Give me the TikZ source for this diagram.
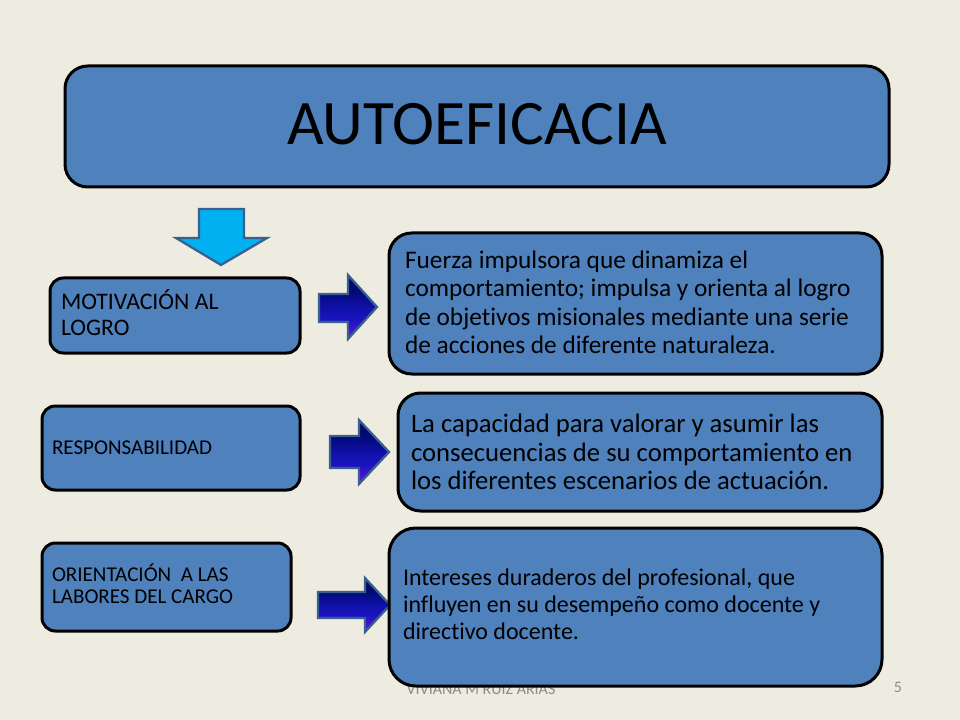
\documentclass[tikz,border=0pt]{standalone}
\usepackage{fontspec}
\setmainfont{Carlito}[Ligatures=CommonOff]
\newcommand{\liftby}[1]{\par\vspace*{#1}}
\definecolor{bgcream}{HTML}{EEECE1}
\definecolor{boxblue}{HTML}{4F81BD}
\definecolor{arrowedge}{HTML}{3A6090}
\definecolor{arrowtop}{HTML}{000A50}
\definecolor{arrowupper}{HTML}{000A78}
\definecolor{arrowmid}{HTML}{1010A8}
\definecolor{arrowlow}{HTML}{1C14C0}
\definecolor{arrowbottom}{HTML}{6010E0}
\definecolor{skyarrow}{HTML}{00B0F0}
\definecolor{footgray}{HTML}{8B8B88}
\pgfdeclareverticalshading{navyfade}{100bp}{color(0bp)=(arrowbottom); color(27bp)=(arrowbottom); color(40bp)=(arrowlow); color(50bp)=(arrowmid); color(62bp)=(arrowupper); color(73bp)=(arrowtop); color(100bp)=(arrowtop)}
\tikzset{
  px/.style={x=0.75pt,y=-0.75pt},
  bluebox/.style={draw=black,fill=boxblue,line width=2.25pt,rounded corners=#1,outer sep=0pt,inner ysep=0pt,anchor=north west,align=flush left,text=black},
  bluebox/.default=13pt,
  navyarrow/.style={draw=arrowedge,line width=1.7pt,line join=miter,shading=navyfade},
  footer/.style={text=footgray,font=\fontsize{12pt}{14pt}\selectfont,inner sep=0pt}
}
\begin{document}
\begin{tikzpicture}[px]
\useasboundingbox (0,0) rectangle (960,720);
\fill[bgcream] (0,0) rectangle (960,720);
% footer (partly hidden by the last box)
\node[footer] (foot) at (481,689) {VIVIANA M RUIZ ARIAS};
\node[footer] (num) at (898,687) {5};
% title
\node[bluebox=17pt,inner xsep=0pt,text width=618pt,minimum height=90.75pt,align=center,font=\fontsize{47.5pt}{52pt}\selectfont] (title) at (65,66) {AUTOEFICACIA\liftby{3pt}};
% down arrow
\draw[draw=arrowedge,line width=1.7pt,fill=skyarrow,line join=miter] (199,209) -- (244,209) -- (244,238) -- (267,238) -- (221,265) -- (176,238) -- (199,238) -- cycle;
% left boxes
\node[bluebox=10pt,inner xsep=8.25pt,text width=171pt,minimum height=56.25pt,font=\fontsize{17.8pt}{19.5pt}\selectfont] (b1) at (50,278) {MOTIVACIÓN AL\\LOGRO\liftby{4.5pt}};
\node[bluebox=10pt,inner xsep=7.5pt,text width=178.5pt,minimum height=63pt,font=\fontsize{15.8pt}{16.5pt}\selectfont] (b2) at (42,406) {RESPONSABILIDAD};
\node[bluebox=10pt,inner xsep=7.5pt,text width=171.75pt,minimum height=66pt,font=\fontsize{15.8pt}{16.5pt}\selectfont] (b3) at (42,543) {ORIENTACIÓN~ A LAS\\LABORES DEL CARGO\liftby{4.5pt}};
% right arrows
\draw[navyarrow] (319,294) -- (348,294) -- (348,275) -- (377,307) -- (348,339) -- (348,322) -- (319,322) -- cycle;
\draw[navyarrow] (330,436) -- (359,436) -- (359,420) -- (389,452) -- (359,484) -- (359,468) -- (330,468) -- cycle;
\draw[navyarrow] (318,592) -- (365,592) -- (365,578) -- (390,605) -- (365,632) -- (365,618) -- (318,618) -- cycle;
% right boxes
\node[bluebox=17pt,inner xsep=12pt,text width=345.75pt,minimum height=105.75pt,font=\fontsize{19pt}{21.4pt}\selectfont] (r1) at (389,233) {Fuerza impulsora que dinamiza el\\comportamiento; impulsa y orienta al logro\\de objetivos misionales mediante una serie\\de acciones de diferente naturaleza.\liftby{1.5pt}};
\node[bluebox=17pt,inner xsep=9.75pt,text width=343.5pt,minimum height=88.5pt,font=\fontsize{20pt}{21.4pt}\selectfont] (r2) at (398,393) {La capacidad para valorar y asumir las\\consecuencias de su comportamiento en\\los diferentes escenarios de actuación.};
\node[bluebox=20pt,inner xsep=10.5pt,text width=348.75pt,minimum height=118.5pt,font=\fontsize{18pt}{20.3pt}\selectfont] (r3) at (389,528) {Intereses duraderos del profesional, que\\influyen en su desempeño como docente y\\directivo docente.\liftby{4.5pt}};
\end{tikzpicture}
\end{document}
